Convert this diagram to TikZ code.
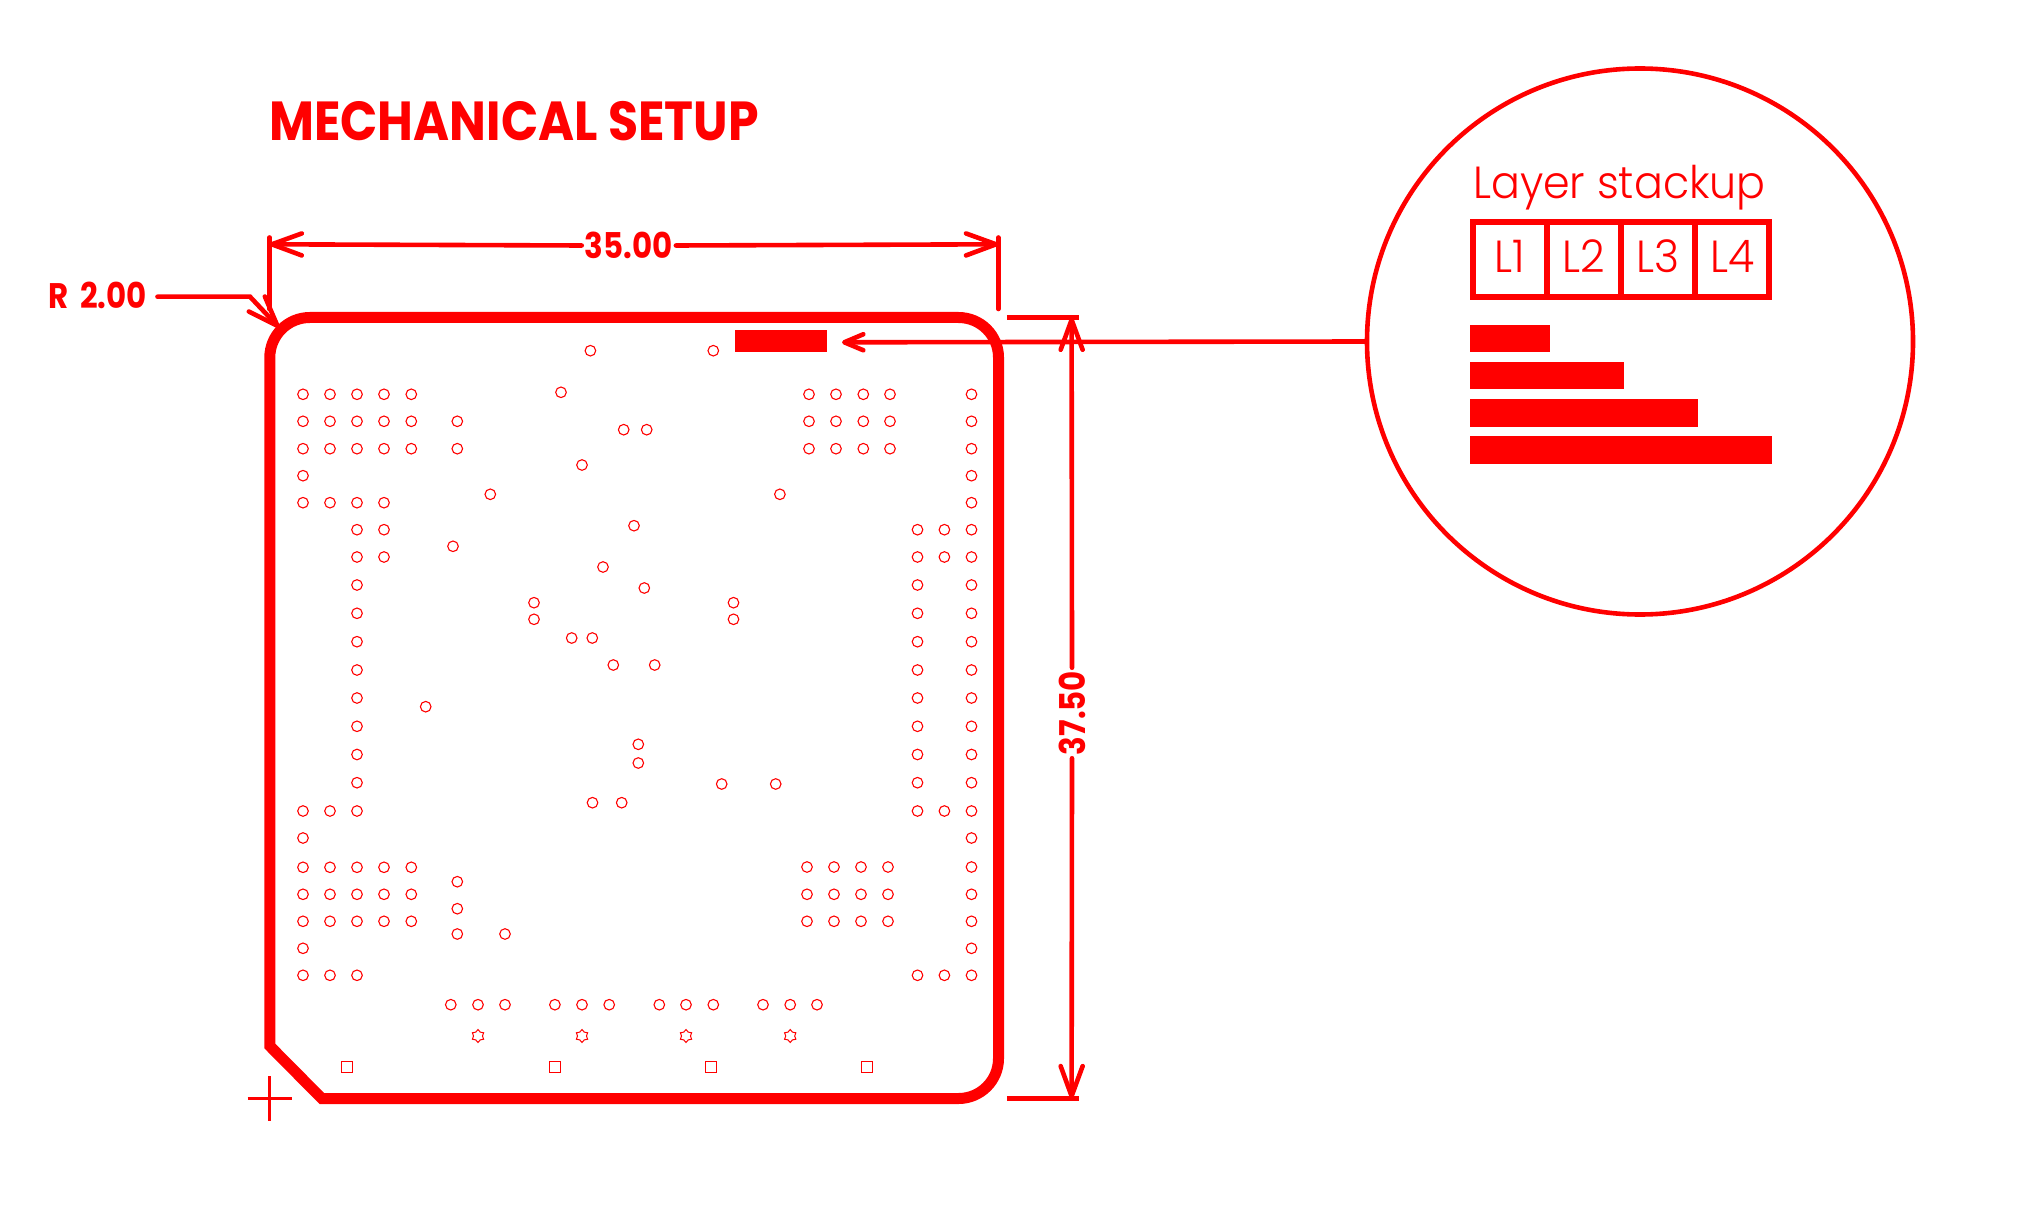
\documentclass[tikz,border=0pt]{standalone}
\usepackage{fontspec}
\usetikzlibrary{arrows.meta,shapes.geometric}
\newfontfamily\boldfont[FakeStretch=0.87]{Poppins}
\newfontfamily\titlefont[FakeStretch=0.89]{Poppins}
\newfontfamily\thinfont[FakeStretch=0.95]{Poppins Light}
\definecolor{pcbred}{RGB}{255,0,0}
\tikzset{
    viahole/.style={draw=pcbred,line width=1.1pt},
    viastar/.style={draw=pcbred,line width=1pt,shape=star,star points=6,star point ratio=1.45,minimum size=13pt,inner sep=0pt},
    viapad/.style={draw=pcbred,line width=1.2pt,minimum size=11pt,inner sep=0pt},
    dimline/.style={draw=pcbred,line width=4.6pt,line cap=round},
    dimarrow/.style={dimline,-{Straight Barb[length=30pt,width=22pt,line width=4.6pt,round]}},
    smallarrow/.style={dimline,-{Straight Barb[length=19pt,width=16pt,line width=4.6pt,round]}},
    dimtext/.style={text=pcbred,inner sep=3pt,font=\boldfont\bfseries\fontsize{35.5}{35.5}\selectfont},
    layercell/.style={draw=pcbred,line width=6pt,minimum width=74.1pt,minimum height=75pt,inner sep=0pt,outer sep=0pt,text=pcbred,text height=31pt,text depth=4pt,font=\thinfont\fontsize{45}{45}\selectfont},
    layerbar/.style={fill=pcbred}
}
\begin{document}
\begin{tikzpicture}[x=1pt,y=-1pt]
    \useasboundingbox (0,0) rectangle (2028,1222);
    \node[anchor=base west,text=pcbred,inner sep=0pt,font=\titlefont\bfseries\fontsize{55}{55}\selectfont] (title) at (269,141) {MECHANICAL SETUP};
    % board outline
    \draw[pcbred,line width=11pt] (269.8,1046) [rounded corners=40pt] -- (269.8,317.5) -- (998.5,317.5) -- (998.5,1098.5) [sharp corners] -- (321.8,1098.5) -- cycle;
    \draw[pcbred,line width=2.3pt] (247.5,1098.4) -- (292,1098.4) (269.4,1076) -- (269.4,1120.7);
    \fill[pcbred] (735,330) rectangle (827,352);
    % vias, left side
    \foreach \y in {394.3,421.3,448.7,867.3,894.3,921.3}
        \foreach \x in {303,330,357,384,411.3}
            \draw[viahole] (\x,\y) circle (5.3pt);
    \foreach \y in {502.7,811,975.3}
        \foreach \x in {303,330,357}
            \draw[viahole] (\x,\y) circle (5.3pt);
    \foreach \y in {475.7,838,948.3}
        \draw[viahole] (303,\y) circle (5.3pt);
    \foreach \y in {529.7,557,585,613.3,641.7,670,698,726.3,754.5,782.7}
        \draw[viahole] (357,\y) circle (5.3pt);
    \foreach \y in {502.7,529.7,557}
        \draw[viahole] (384,\y) circle (5.3pt);
    % vias, right side
    \foreach \y in {394.3,421.3,448.7}
        \foreach \x in {809,836,863.3,890}
            \draw[viahole] (\x,\y) circle (5.3pt);
    \foreach \y in {867,894.3,921.3}
        \foreach \x in {807,834,861,888}
            \draw[viahole] (\x,\y) circle (5.3pt);
    \foreach \y in {394.3,421.3,448.7,475.7,502.7,529.7,557,585,613.3,641.7,670,698,726.3,754.5,782.7,811,838,867,894.3,921.3,948.3,975.3}
        \draw[viahole] (971.5,\y) circle (5.3pt);
    \foreach \y in {529.7,557,585,613.3,641.7,670,698,726.3,754.5,782.7,811,975.3}
        \draw[viahole] (917.5,\y) circle (5.3pt);
    \foreach \y in {529.7,557,811,975.3}
        \draw[viahole] (944.4,\y) circle (5.3pt);
    % loose vias
    \foreach \x/\y in {590.4/350.7,713.3/350.7,561/392.3,623.7/429.7,646.7/429.7,457.3/421.3,457.3/448.7,582/465,490.3/494.3,779.9/494.3,634/525.7,453/546.3,603/567,644.3/588,534/602.7,534/619.3,733.5/602.7,733.5/619.3,571.7/638,592.3/638,613.3/665,654.7/665,425.7/706.7,638.3/744.3,638.3/763,721.7/784,775.7/784,592.5/802.7,621.7/802.7,457.3/881.7,457.3/908.7,457.3/934,505/934}
        \draw[viahole] (\x,\y) circle (5.3pt);
    \foreach \x in {450.8,478,505,554.9,582,609.2,659.3,686,713.3,763,790.2,817}
        \draw[viahole] (\x,1004.7) circle (5.3pt);
    \foreach \x in {478,582,686,790.2}
        \node[viastar] (star\x) at (\x,1036) {};
    \foreach \x in {347,554.9,711,867.3}
        \node[viapad] (pad\x) at (\x,1067) {};
    % width dimension
    \coordinate (widthL) at (269.5,244.3);
    \coordinate (widthR) at (998.3,244.3);
    \node[dimtext] (widthlabel) at (628.8,245.5) {35.00};
    \draw[dimline] (269.5,237.5) -- (269.5,309);
    \draw[dimline] (998.3,237.5) -- (998.3,309);
    \draw[dimarrow] (widthlabel.west) -- (widthL);
    \draw[dimarrow] (widthlabel.east) -- (widthR);
    % height dimension
    \coordinate (heightT) at (1071.6,317.5);
    \coordinate (heightB) at (1071.6,1098.4);
    \node[dimtext,rotate=90] (heightlabel) at (1072,713) {37.50};
    \draw[dimline,line cap=butt] (1006.8,317.5) -- (1079,317.5);
    \draw[dimline,line cap=butt] (1006.8,1098.4) -- (1079,1098.4);
    \draw[dimarrow] (heightlabel.east) -- (heightT);
    \draw[dimarrow] (heightlabel.west) -- (heightB);
    % radius callout
    \node[dimtext] (radiuslabel) at (97.5,295.5) {R\,\,2.00};
    \coordinate (radiuskink) at (250,296.7);
    \coordinate (radiustip) at (279,327.5);
    \draw[dimarrow] (157.5,296.7) -- (radiuskink) -- (radiustip);
    % stackup detail
    \node[draw=pcbred,line width=4.6pt,circle,minimum size=546pt,inner sep=0pt] (detail) at (1640,341.5) {};
    \coordinate (detailtip) at (842,342.3);
    \draw[smallarrow] (detail.west) -- (detailtip);
    \node[anchor=base west,text=pcbred,inner sep=0pt,font=\thinfont\fontsize{45}{45}\selectfont] (stackup) at (1473,199) {Layer stackup};
    \node[layercell] (l1) at (1509.85,259.5) {L1};
    \node[layercell,xshift=74.1pt] (l2) at (l1) {L2};
    \node[layercell,xshift=74.1pt] (l3) at (l2) {L3};
    \node[layercell,xshift=74.1pt] (l4) at (l3) {L4};
    \fill[layerbar] (1469.8,325.2) rectangle (1550.2,352);
    \fill[layerbar] (1469.8,362) rectangle (1624,388.7);
    \fill[layerbar] (1469.8,399) rectangle (1698,427);
    \fill[layerbar] (1469.8,436) rectangle (1772.2,464);
\end{tikzpicture}
\end{document}
